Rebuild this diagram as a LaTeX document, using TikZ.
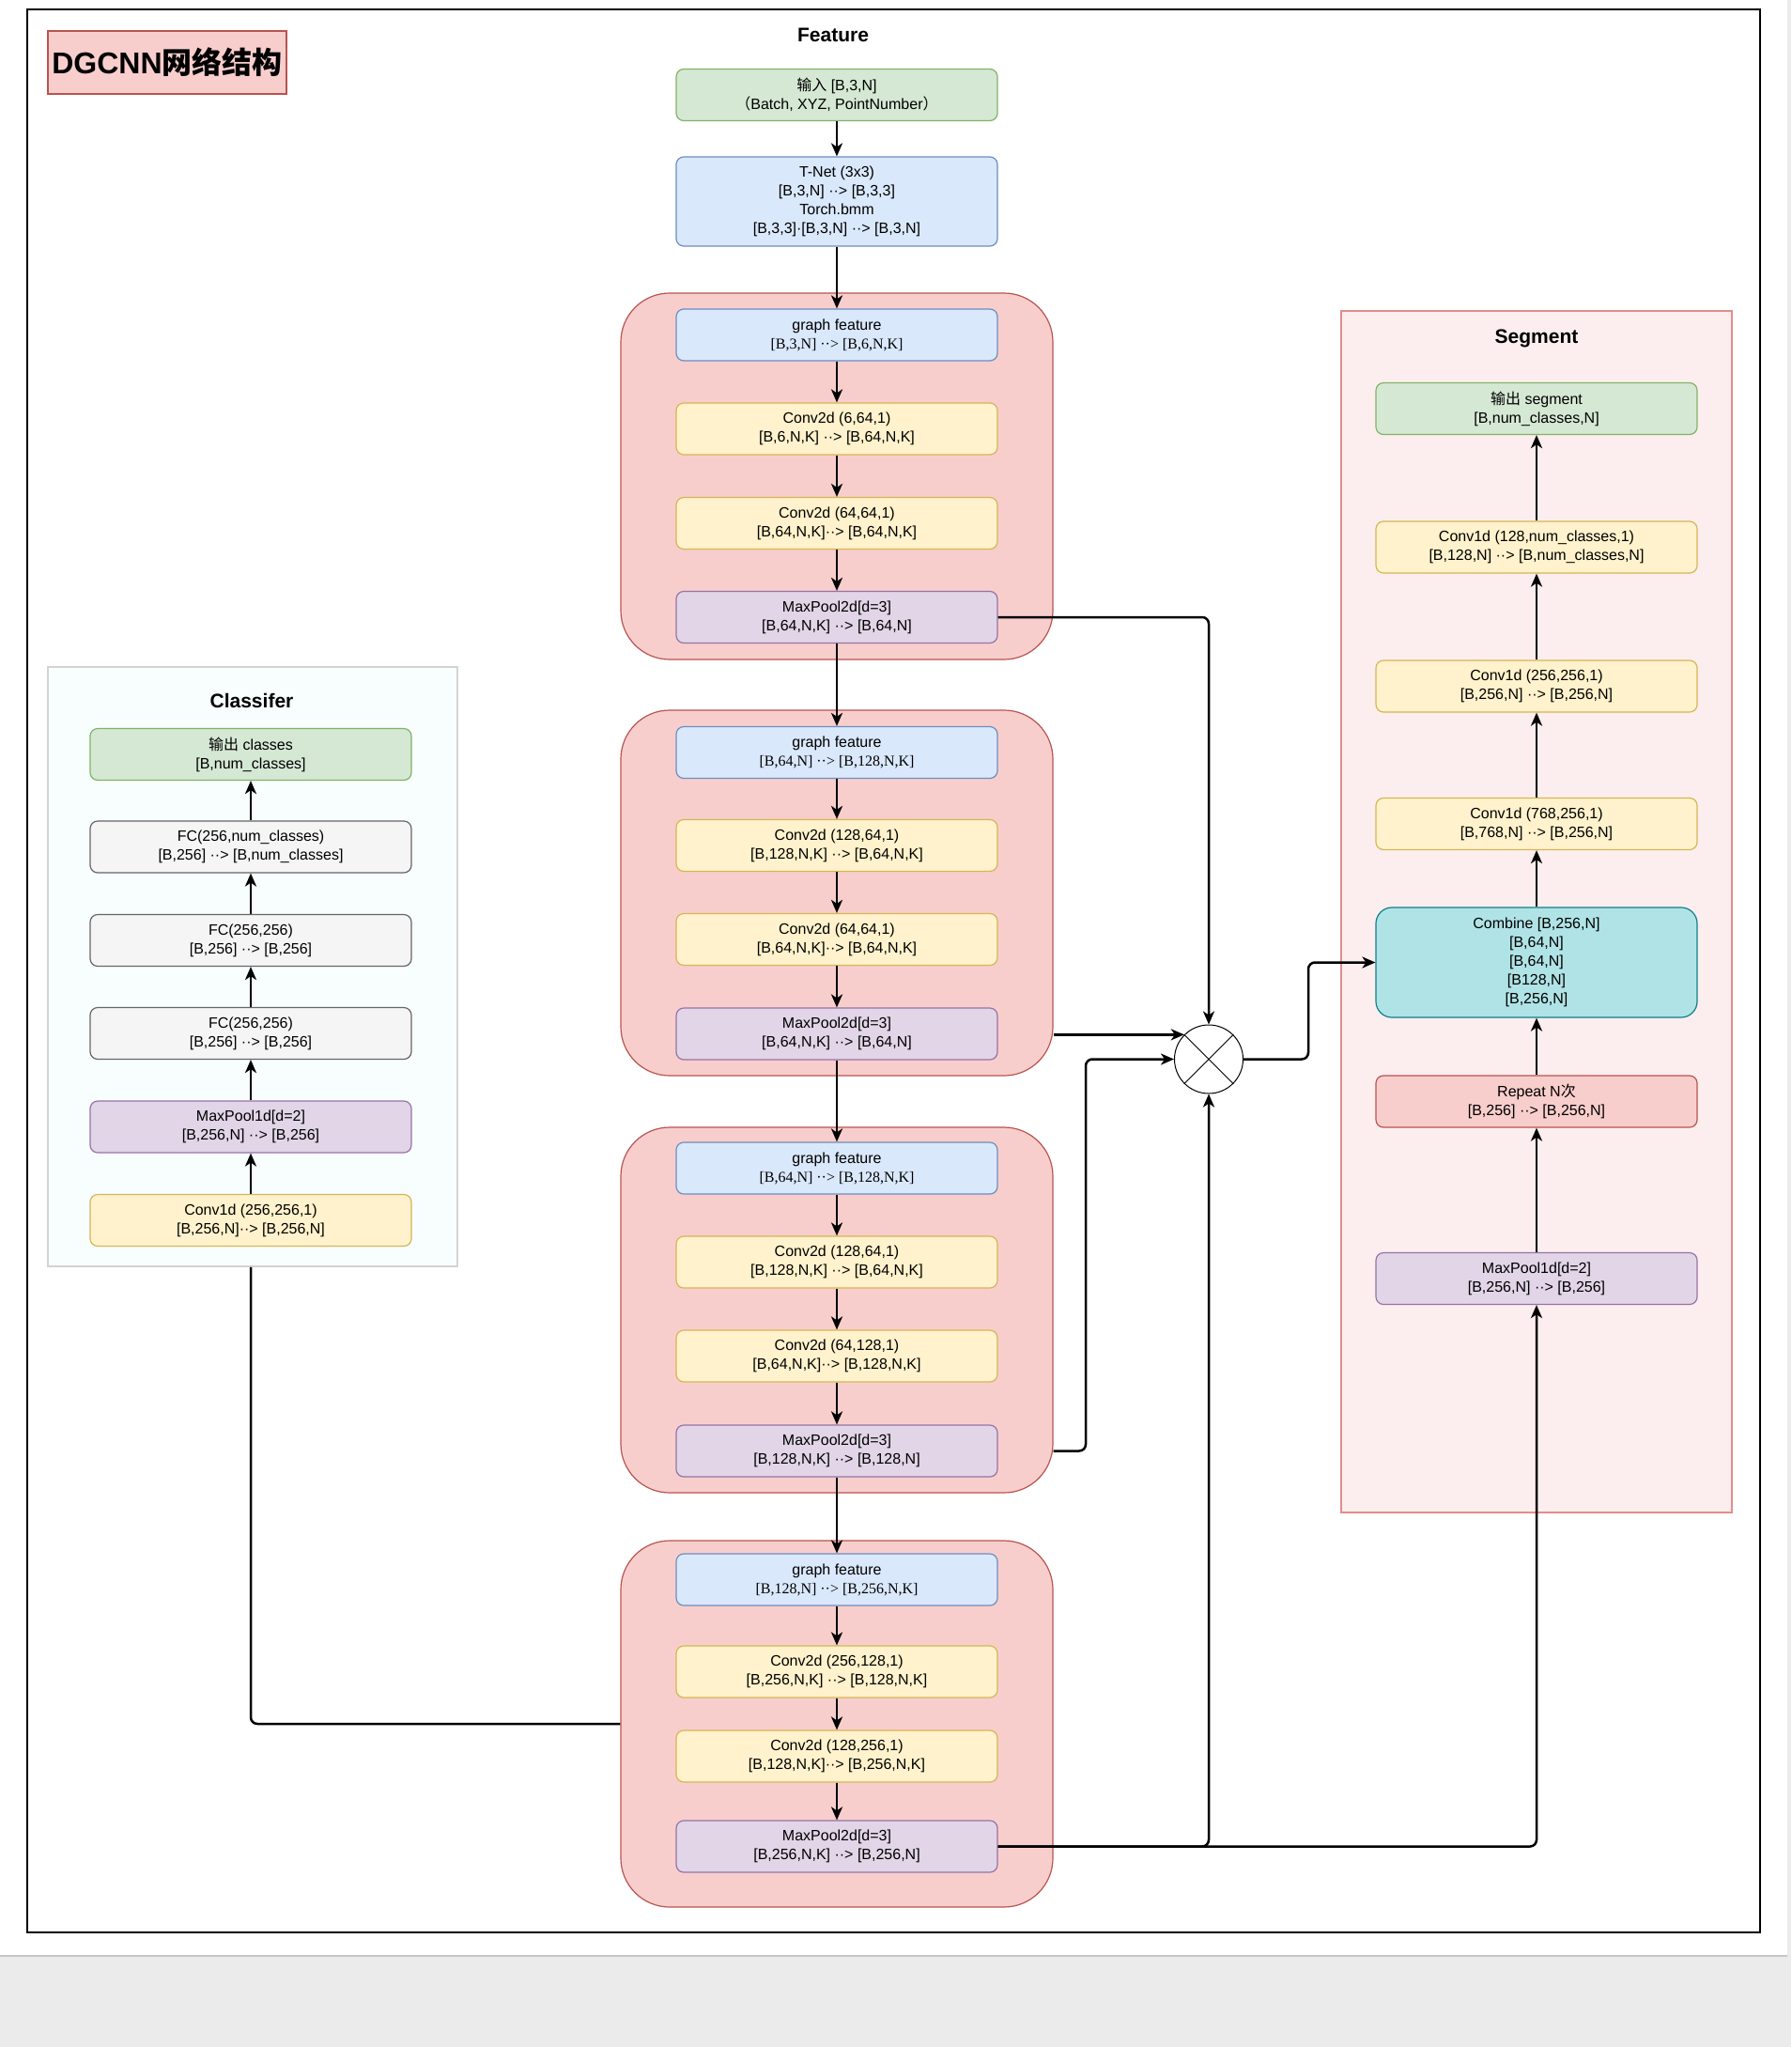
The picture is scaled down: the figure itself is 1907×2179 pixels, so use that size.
\documentclass[tikz,border=0pt]{standalone}
\usepackage{fontspec}
\setmainfont{Liberation Sans}
\newfontfamily\serif{Liberation Serif}
\newfontfamily\cjk{Noto Sans CJK SC}
\usepackage{tikz}
\usetikzlibrary{arrows.meta, positioning, calc}
\definecolor{grnF}{HTML}{D5E8D4}\definecolor{grnD}{HTML}{82B366}
\definecolor{bluF}{HTML}{DAE8FC}\definecolor{bluD}{HTML}{6C8EBF}
\definecolor{ylwF}{HTML}{FFF2CC}\definecolor{ylwD}{HTML}{D6B656}
\definecolor{prpF}{HTML}{E1D5E7}\definecolor{prpD}{HTML}{9673A6}
\definecolor{redF}{HTML}{F8CECC}\definecolor{redD}{HTML}{B85450}
\definecolor{gryF}{HTML}{F5F5F5}\definecolor{gryD}{HTML}{666666}
\definecolor{cynF}{HTML}{B0E3E6}\definecolor{cynD}{HTML}{0E8088}
\definecolor{segF}{HTML}{FCEEEE}\definecolor{segD}{HTML}{E08E8C}
\definecolor{clsF}{HTML}{F8FDFD}\definecolor{clsD}{HTML}{D3D3D3}
\definecolor{pageGray}{HTML}{EBEBEB}

\begin{document}
\begin{tikzpicture}[x=1pt, y=-1pt, >={Stealth[length=14pt,width=12pt,inset=4pt]},
  font=\fontsize{16}{20}\selectfont,
  box/.style={rounded corners=8pt, line width=1.2pt, minimum width=342pt,
              minimum height=55pt, align=center, inner sep=2pt},
  grn/.style={box, draw=grnD, fill=grnF},
  blu/.style={box, draw=bluD, fill=bluF},
  ylw/.style={box, draw=ylwD, fill=ylwF},
  prp/.style={box, draw=prpD, fill=prpF},
  gry/.style={box, draw=gryD, fill=gryF},
  cyn/.style={box, draw=cynD, fill=cynF, rounded corners=17pt},
  rpt/.style={box, draw=redD, fill=redF},
  grp/.style={draw=redD, fill=redF, line width=1.2pt, rounded corners=52pt,
              minimum width=460pt, minimum height=390pt},
  hdr/.style={font=\bfseries\fontsize{21}{24}\selectfont},
  ar/.style={->, line width=2.5pt},
  ln/.style={line width=2.5pt, rounded corners=7pt}]

  \useasboundingbox (0,0) rectangle (1907,2179);
  \fill[pageGray] (0,2082) rectangle (1907,2179);
  \fill[pageGray] (1903,0) rectangle (1907,2082);
  \draw[gray!45, line width=1.5pt] (0,2082) -- (1903,2082);
  \draw[line width=2pt] (29,10) rectangle (1874,2057);

  \node[draw=redD, fill=redF, line width=1.2pt, minimum width=254pt, minimum height=67pt,
        font=\bfseries\fontsize{32}{36}\selectfont] (ttl) at (178,66.5) {DGCNN{\cjk 网络结构}};

  % panels
  \node[draw=clsD, fill=clsF, line width=1.5pt, minimum width=436pt, minimum height=638pt] (cls) at (269,1029) {};
  \node[draw=segD, fill=segF, line width=1.2pt, minimum width=416pt, minimum height=1279pt] (seg) at (1636,970.5) {};
  \node[grp] (g1) at (891,507) {};
  \node[grp, minimum height=389pt] (g2) at (891,950.5) {};
  \node[grp, minimum height=389pt] (g3) at (891,1394.5) {};
  \node[grp] (g4) at (891,1835) {};

  \node[hdr] (tfea) at (887,37) {Feature};
  \node[hdr] (tseg) at (1636,360) {Segment};
  \node[hdr] (tcls) at (268,746) {Classifer};

  % feature column
  \node[grn] (inp) at (891,101) {{\cjk 输入} [B,3,N]\\{\cjk （}Batch, XYZ, PointNumber{\cjk ）}};
  \node[blu, minimum height=95pt] (tnet) at (891,214.5)
    {T-Net (3x3)\\{}[B,3,N] ··> [B,3,3]\\Torch.bmm\\{}[B,3,3]·[B,3,N] ··> [B,3,N]};

  \node[blu] (gf1) at (891,356.5) {graph feature\\{\serif [B,3,N] ··> [B,6,N,K]}};
  \node[ylw] (ca1) at (891,456.5) {Conv2d (6,64,1)\\{}[B,6,N,K] ··> [B,64,N,K]};
  \node[ylw] (cb1) at (891,557)   {Conv2d (64,64,1)\\{}[B,64,N,K]··> [B,64,N,K]};
  \node[prp] (mp1) at (891,657)   {MaxPool2d[d=3]\\{}[B,64,N,K] ··> [B,64,N]};

  \node[blu] (gf2) at (891,801)    {graph feature\\{\serif [B,64,N] ··> [B,128,N,K]}};
  \node[ylw] (ca2) at (891,900)    {Conv2d (128,64,1)\\{}[B,128,N,K] ··> [B,64,N,K]};
  \node[ylw] (cb2) at (891,1000)   {Conv2d (64,64,1)\\{}[B,64,N,K]··> [B,64,N,K]};
  \node[prp] (mp2) at (891,1100.5) {MaxPool2d[d=3]\\{}[B,64,N,K] ··> [B,64,N]};

  \node[blu] (gf3) at (891,1243.5) {graph feature\\{\serif [B,64,N] ··> [B,128,N,K]}};
  \node[ylw] (ca3) at (891,1343.5) {Conv2d (128,64,1)\\{}[B,128,N,K] ··> [B,64,N,K]};
  \node[ylw] (cb3) at (891,1443.5) {Conv2d (64,128,1)\\{}[B,64,N,K]··> [B,128,N,K]};
  \node[prp] (mp3) at (891,1544.5) {MaxPool2d[d=3]\\{}[B,128,N,K] ··> [B,128,N]};

  \node[blu] (gf4) at (891,1681.5) {graph feature\\{\serif [B,128,N] ··> [B,256,N,K]}};
  \node[ylw] (ca4) at (891,1779.5) {Conv2d (256,128,1)\\{}[B,256,N,K] ··> [B,128,N,K]};
  \node[ylw] (cb4) at (891,1869.5) {Conv2d (128,256,1)\\{}[B,128,N,K]··> [B,256,N,K]};
  \node[prp] (mp4) at (891,1965.5) {MaxPool2d[d=3]\\{}[B,256,N,K] ··> [B,256,N]};

  % classifier
  \node[grn] (cout) at (267,803)    {{\cjk 输出} classes\\{}[B,num\_classes]};
  \node[gry] (cfc1) at (267,901.5)  {FC(256,num\_classes)\\{}[B,256] ··> [B,num\_classes]};
  \node[gry] (cfc2) at (267,1001)   {FC(256,256)\\{}[B,256] ··> [B,256]};
  \node[gry] (cfc3) at (267,1100)   {FC(256,256)\\{}[B,256] ··> [B,256]};
  \node[prp] (cmp)  at (267,1199.5) {MaxPool1d[d=2]\\{}[B,256,N] ··> [B,256]};
  \node[ylw] (ccv)  at (267,1299)   {Conv1d (256,256,1)\\{}[B,256,N]··> [B,256,N]};

  % segment
  \node[grn] (sout) at (1636,435)   {{\cjk 输出} segment\\{}[B,num\_classes,N]};
  \node[ylw] (sc1)  at (1636,582.5) {Conv1d (128,num\_classes,1)\\{}[B,128,N] ··> [B,num\_classes,N]};
  \node[ylw] (sc2)  at (1636,730.5) {Conv1d (256,256,1)\\{}[B,256,N] ··> [B,256,N]};
  \node[ylw] (sc3)  at (1636,877)   {Conv1d (768,256,1)\\{}[B,768,N] ··> [B,256,N]};
  \node[cyn, minimum height=117pt] (comb) at (1636,1024.5)
    {Combine [B,256,N]\\{}[B,64,N]\\{}[B,64,N]\\{}[B128,N]\\{}[B,256,N]};
  \node[rpt] (srep) at (1636,1172.5) {Repeat N{\cjk 次}\\{}[B,256] ··> [B,256,N]};
  \node[prp] (smp)  at (1636,1361)   {MaxPool1d[d=2]\\{}[B,256,N] ··> [B,256]};

  \node[draw, circle, fill=white, line width=1pt, minimum size=73pt] (circ) at (1287,1127.5) {};
  \draw[line width=1pt] (circ.north west) -- (circ.south east);
  \draw[line width=1pt] (circ.north east) -- (circ.south west);

  \foreach \a/\b in {inp/tnet, tnet/gf1, gf1/ca1, ca1/cb1, cb1/mp1, mp1/gf2,
                     gf2/ca2, ca2/cb2, cb2/mp2, mp2/gf3, gf3/ca3, ca3/cb3, cb3/mp3,
                     mp3/gf4, gf4/ca4, ca4/cb4, cb4/mp4,
                     ccv/cmp, cmp/cfc3, cfc3/cfc2, cfc2/cfc1, cfc1/cout,
                     smp/srep, srep/comb, comb/sc3, sc3/sc2, sc2/sc1, sc1/sout}
    \draw[ar] (\a) -- (\b);

  \coordinate (k3) at (1156,1127.5);
  \coordinate (k4) at (1393,1127.5);
  \draw[ar, ln] (mp1.east) -| (circ.north);
  \draw[ar] (g2.east |- circ.north west) -- (circ.north west);
  \draw[ar, ln] (g3.east |- mp3.east) -| (k3) -- (circ.west);
  \draw[ar, ln] (mp4.east) -| (circ.south);
  \draw[ar, ln] (mp4.east) -| (smp.south);
  \draw[ar, ln] (circ.east) -- (k4) |- (comb.west);
  \draw[ln] (g4.west) -| (ccv |- cls.south);

\end{tikzpicture}
\end{document}
